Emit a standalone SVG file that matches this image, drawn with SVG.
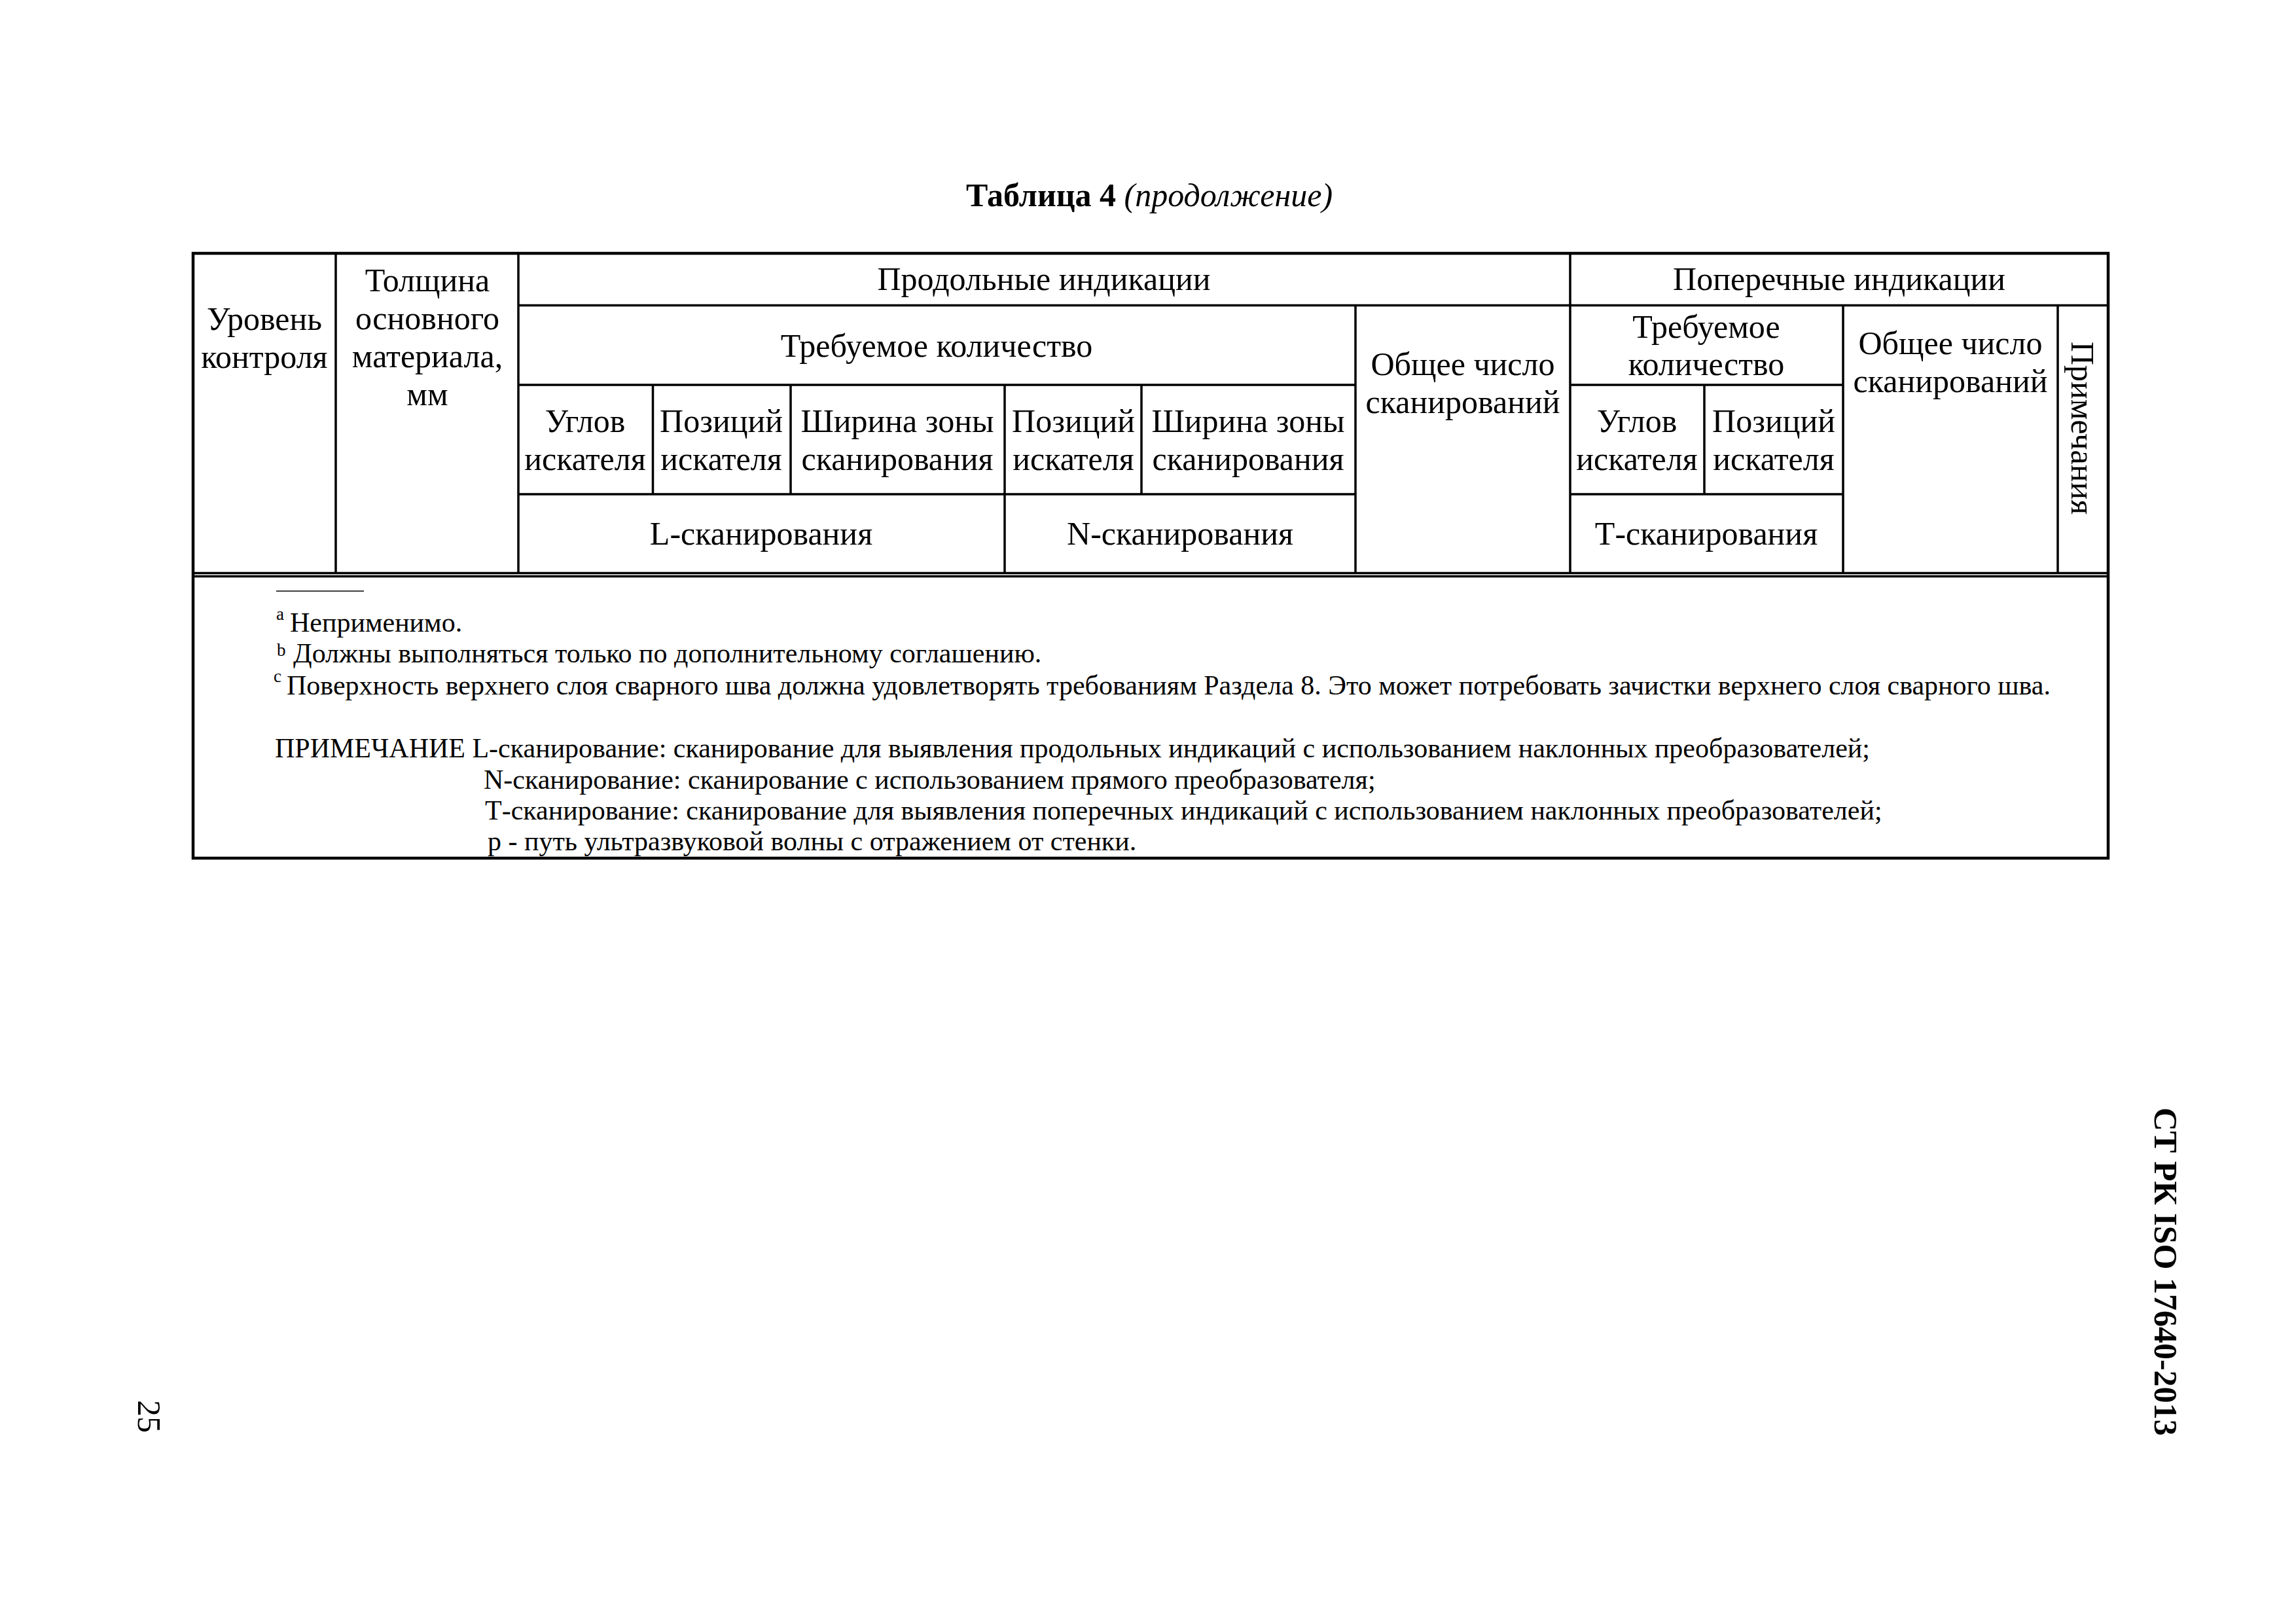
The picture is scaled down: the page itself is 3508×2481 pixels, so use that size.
<svg xmlns="http://www.w3.org/2000/svg" width="3508" height="2481" viewBox="0 0 3508 2481">
<style>
  .t { font-family: "Liberation Serif", "Times New Roman", serif; font-size: 50px; fill: #000; }
  .c { text-anchor: middle; }
  .f { font-family: "Liberation Serif", "Times New Roman", serif; font-size: 42px; fill: #000; }
  .sup { font-family: "Liberation Serif", "Times New Roman", serif; font-size: 27px; fill: #000; }
  .ln { stroke: #000; stroke-width: 3.5; fill: none; }
  .outer { stroke: #000; stroke-width: 4.5; fill: none; }
  .thin { stroke: #000; stroke-width: 1.5; fill: none; }
</style>
<rect width="3508" height="2481" fill="#fff"/>

<g id="title">
  <text class="t c" x="1756" y="315"><tspan font-weight="bold">Таблица 4</tspan><tspan font-style="italic"> (продолжение)</tspan></text>
</g>

<g id="table-lines">
  <rect class="outer" x="295" y="387" width="2926" height="924"/>
  <line class="ln" x1="792" y1="466.5" x2="3221" y2="466.5"/>
  <line class="ln" x1="792" y1="588" x2="2071" y2="588"/>
  <line class="ln" x1="2399" y1="588" x2="2816" y2="588"/>
  <line class="ln" x1="792" y1="755" x2="2071" y2="755"/>
  <line class="ln" x1="2399" y1="755" x2="2816" y2="755"/>
  <line class="ln" x1="295" y1="875.5" x2="3221" y2="875.5"/>
  <line class="ln" x1="295" y1="880.5" x2="3221" y2="880.5"/>
  <line class="ln" x1="513" y1="387" x2="513" y2="875"/>
  <line class="ln" x1="792" y1="387" x2="792" y2="875"/>
  <line class="ln" x1="997.5" y1="588" x2="997.5" y2="755"/>
  <line class="ln" x1="1208" y1="588" x2="1208" y2="755"/>
  <line class="ln" x1="1535" y1="588" x2="1535" y2="875"/>
  <line class="ln" x1="1744" y1="588" x2="1744" y2="755"/>
  <line class="ln" x1="2071" y1="466.5" x2="2071" y2="875"/>
  <line class="ln" x1="2399" y1="387" x2="2399" y2="875"/>
  <line class="ln" x1="2604" y1="588" x2="2604" y2="755"/>
  <line class="ln" x1="2816" y1="466.5" x2="2816" y2="875"/>
  <line class="ln" x1="3144" y1="466.5" x2="3144" y2="875"/>
</g>

<g id="cell-uroven">
  <text class="t c" x="404" y="504">Уровень</text>
  <text class="t c" x="404" y="562">контроля</text>
</g>
<g id="cell-tolshchina">
  <text class="t c" x="653" y="445">Толщина</text>
  <text class="t c" x="653" y="503">основного</text>
  <text class="t c" x="653" y="561">материала,</text>
  <text class="t c" x="653" y="619">мм</text>
</g>
<g id="cell-prodolnye">
  <text class="t c" x="1595" y="443">Продольные индикации</text>
</g>
<g id="cell-poperechnye">
  <text class="t c" x="2810" y="443">Поперечные индикации</text>
</g>
<g id="cell-treb-L">
  <text class="t c" x="1431" y="545">Требуемое количество</text>
</g>
<g id="cell-obshchee-L">
  <text class="t c" x="2235" y="573">Общее число</text>
  <text class="t c" x="2235" y="631">сканирований</text>
</g>
<g id="cell-uglov-L">
  <text class="t c" x="894" y="660">Углов</text>
  <text class="t c" x="894" y="718">искателя</text>
</g>
<g id="cell-pozicij-L">
  <text class="t c" x="1102" y="660">Позиций</text>
  <text class="t c" x="1102" y="718">искателя</text>
</g>
<g id="cell-shirina-L">
  <text class="t c" x="1371" y="660">Ширина зоны</text>
  <text class="t c" x="1371" y="718">сканирования</text>
</g>
<g id="cell-pozicij-N">
  <text class="t c" x="1640" y="660">Позиций</text>
  <text class="t c" x="1640" y="718">искателя</text>
</g>
<g id="cell-shirina-N">
  <text class="t c" x="1907" y="660">Ширина зоны</text>
  <text class="t c" x="1907" y="718">сканирования</text>
</g>
<g id="cell-L-scan">
  <text class="t c" x="1163" y="832">L-сканирования</text>
</g>
<g id="cell-N-scan">
  <text class="t c" x="1803" y="832">N-сканирования</text>
</g>
<g id="cell-treb-T">
  <text class="t c" x="2607" y="516">Требуемое</text>
  <text class="t c" x="2607" y="573">количество</text>
</g>
<g id="cell-obshchee-T">
  <text class="t c" x="2980" y="541">Общее число</text>
  <text class="t c" x="2980" y="599">сканирований</text>
</g>
<g id="cell-uglov-T">
  <text class="t c" x="2501" y="660">Углов</text>
  <text class="t c" x="2501" y="718">искателя</text>
</g>
<g id="cell-pozicij-T">
  <text class="t c" x="2710" y="660">Позиций</text>
  <text class="t c" x="2710" y="718">искателя</text>
</g>
<g id="cell-T-scan">
  <text class="t c" x="2607" y="832">Т-сканирования</text>
</g>
<g id="cell-primechaniya">
  <text class="t c" transform="translate(3165,654) rotate(90)" x="0" y="0">Примечания</text>
</g>

<g id="footnotes">
  <line class="thin" x1="422" y1="903" x2="556" y2="903"/>
  <text class="sup" x="422" y="947">a</text>
  <text class="f" x="443" y="965">Неприменимо.</text>
  <text class="sup" x="423" y="1002">b</text>
  <text class="f" x="448" y="1012">Должны выполняться только по дополнительному соглашению.</text>
  <text class="sup" x="418" y="1042">c</text>
  <text class="f" x="438" y="1061">Поверхность верхнего слоя сварного шва должна удовлетворять требованиям Раздела 8. Это может потребовать зачистки верхнего слоя сварного шва.</text>
  <text class="f" x="420" y="1157">ПРИМЕЧАНИЕ L-сканирование: сканирование для выявления продольных индикаций с использованием наклонных преобразователей;</text>
  <text class="f" x="739" y="1205">N-сканирование: сканирование с использованием прямого преобразователя;</text>
  <text class="f" x="741" y="1252">Т-сканирование: сканирование для выявления поперечных индикаций с использованием наклонных преобразователей;</text>
  <text class="f" x="745" y="1299">р - путь ультразвуковой волны с отражением от стенки.</text>
</g>

<g id="page-header">
  <text class="t" font-weight="bold" transform="translate(3292,1692) rotate(90)" x="0" y="0">СТ РК ISO 17640-2013</text>
</g>
<g id="page-number">
  <text class="t" font-size="48" transform="translate(211,2139) rotate(90)" x="0" y="0">25</text>
</g>
</svg>
